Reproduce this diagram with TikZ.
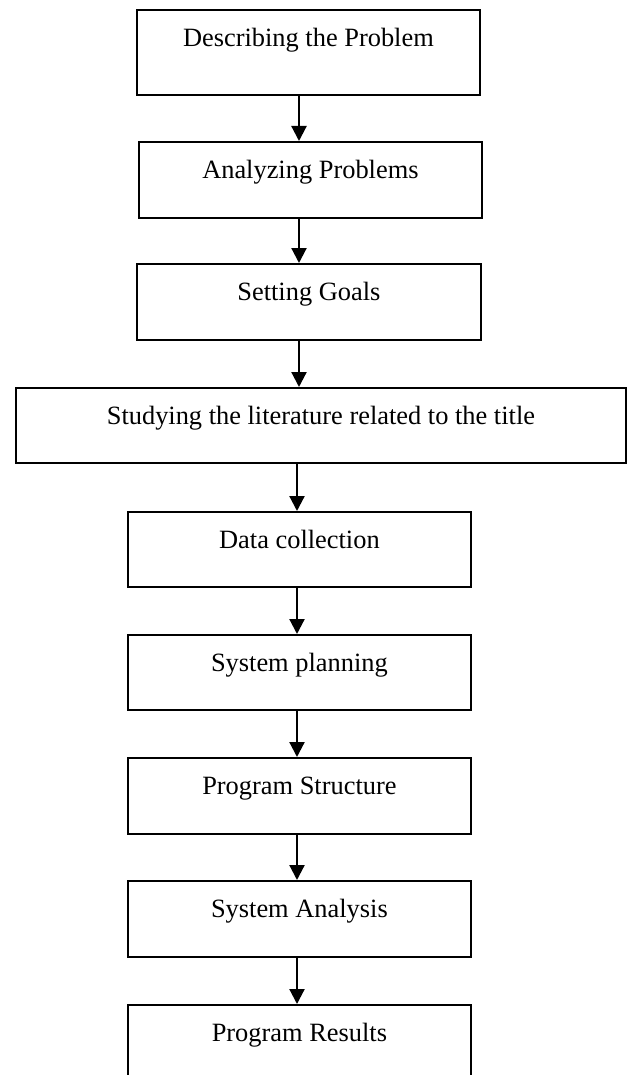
\documentclass[tikz,border=0pt]{standalone}
\usepackage{fontspec}
\setmainfont{Liberation Serif}
\usetikzlibrary{arrows.meta}

\tikzset{
    stage/.style={draw, line width=1.8pt, inner sep=0pt, anchor=north west,
        text height=37pt, text depth=39pt, font=\fontsize{26.4}{30}\selectfont},
    flow/.style={line width=2.2pt, -{Triangle[length=15pt,width=15pt]}}
}

\begin{document}
\begin{tikzpicture}[x=1pt,y=-1pt]

\useasboundingbox (0,0) rectangle (630,1075);
\clip (0,0) rectangle (630,1075);

\node[stage, minimum width=343pt, text depth=48pt] (describe) at (136,9) {Describing the Problem};
\node[stage, minimum width=343pt] (analyze) at (138,141) {Analyzing Problems};
\node[stage, minimum width=344pt] (goals) at (136,263) {Setting Goals};
\node[stage, minimum width=610pt, text depth=38pt] (literature) at (15,387) {Studying the literature related to the title};

\node[stage, minimum width=343pt, text depth=38pt] (collect) at (127,511) {Data collection};
\node[stage, minimum width=343pt, text depth=38pt] (planning) at (127,634) {System planning};
\node[stage, minimum width=343pt] (structure) at (127,757) {Program Structure};
\node[stage, minimum width=343pt] (analysis) at (127,880) {System Analysis};
\node[stage, minimum width=343pt, text depth=60pt] (results) at (127,1004) {Program Results};

\coordinate (upper) at (299,0);
\coordinate (lower) at (297,0);

\foreach \a/\b in {describe/analyze, analyze/goals, goals/literature}
{
    \draw[flow] (\a.south -| upper) -- (\b.north -| upper);
}
\foreach \a/\b in {literature/collect, collect/planning, planning/structure, structure/analysis, analysis/results}
{
    \draw[flow] (\a.south -| lower) -- (\b.north -| lower);
}

\end{tikzpicture}
\end{document}
